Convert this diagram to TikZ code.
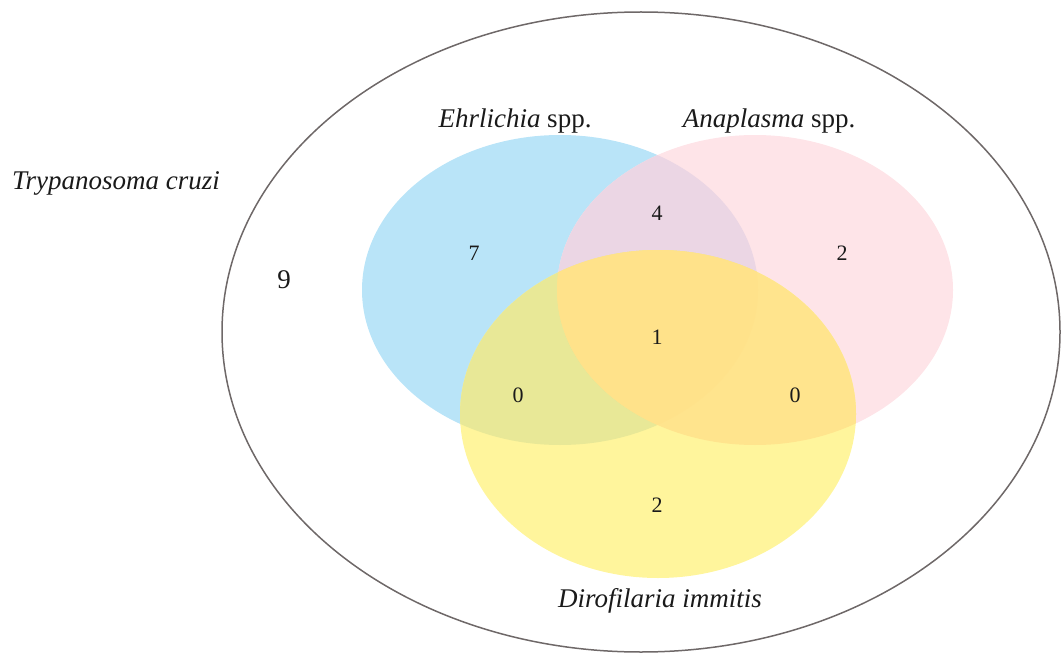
\documentclass[tikz,border=0pt]{standalone}
\usepackage{fontspec}
\setmainfont{Liberation Serif}
\definecolor{cblue}{HTML}{B9E4F8}
\definecolor{cpink}{HTML}{FEE4E8}
\definecolor{cyellow}{HTML}{FFF59C}
\definecolor{cbp}{HTML}{EBD6E4}
\definecolor{cby}{HTML}{E8E897}
\definecolor{cpy}{HTML}{FFE48D}
\definecolor{cbpy}{HTML}{FFE28A}
\definecolor{outline}{HTML}{6E6868}
\definecolor{txt}{HTML}{1A1A1A}
\tikzset{
  lab/.style={font=\fontsize{27}{30}\selectfont, text=txt, inner sep=0pt},
  num/.style={font=\fontsize{22}{25}\selectfont, text=txt, inner sep=0pt},
}
\begin{document}
\begin{tikzpicture}[x=1pt,y=1pt]
\useasboundingbox (0,0) rectangle (1062,-655);
% outer set
\draw[outline, line width=1.5pt] (641,-332) ellipse [x radius=419pt, y radius=320pt];
% base sets
\fill[cblue] (560,-290) ellipse [x radius=198pt, y radius=155pt];
\fill[cpink] (755,-290) ellipse [x radius=198pt, y radius=155pt];
\fill[cyellow] (658,-414) ellipse [x radius=198pt, y radius=164pt];
% pairwise intersections
\begin{scope}
  \clip (560,-290) ellipse [x radius=198pt, y radius=155pt];
  \fill[cbp] (755,-290) ellipse [x radius=198pt, y radius=155pt];
\end{scope}
\begin{scope}
  \clip (560,-290) ellipse [x radius=198pt, y radius=155pt];
  \fill[cby] (658,-414) ellipse [x radius=198pt, y radius=164pt];
\end{scope}
\begin{scope}
  \clip (755,-290) ellipse [x radius=198pt, y radius=155pt];
  \fill[cpy] (658,-414) ellipse [x radius=198pt, y radius=164pt];
\end{scope}
% triple intersection
\begin{scope}
  \clip (560,-290) ellipse [x radius=198pt, y radius=155pt];
  \clip (755,-290) ellipse [x radius=198pt, y radius=155pt];
  \fill[cbpy] (658,-414) ellipse [x radius=198pt, y radius=164pt];
\end{scope}
% labels
\node[lab] (tc) at (116,-183) {\itshape Trypanosoma cruzi};
\node[lab] (ehr) at (515,-121) {\textit{Ehrlichia} spp.};
\node[lab] (ana) at (769,-121) {\textit{Anaplasma} spp.};
\node[lab] (dir) at (660,-601) {\itshape Dirofilaria immitis};
% counts
\node[lab] (n9) at (284,-280) {9};
\node[num] (nb) at (474,-253) {7};
\node[num] (nbp) at (657,-213) {4};
\node[num] (np) at (842,-253) {2};
\node[num] (nbpy) at (657,-337) {1};
\node[num] (nby) at (518,-395) {0};
\node[num] (npy) at (795,-395) {0};
\node[num] (ny) at (657,-505) {2};
\end{tikzpicture}
\end{document}
